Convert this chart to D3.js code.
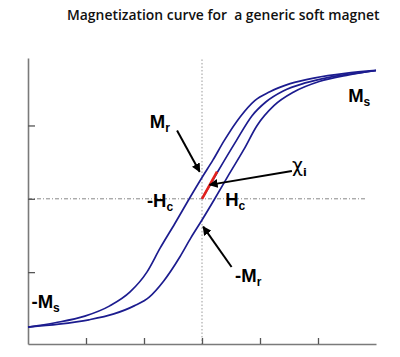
<!DOCTYPE html>
<html>
<head>
<meta charset="utf-8">
<script src="https://cdn.jsdelivr.net/npm/d3@7"></script>
<style>
  html, body { margin: 0; padding: 0; background: #fff; }
  svg { display: block; }
</style>
</head>
<body>
<svg id="chart" width="400" height="357"></svg>
<script>
// ---- Data (field H, magnetization M in arbitrary units) ----
const xTicks = [-2, -1, 0, 1, 2];
const yTicks = [-1, 0, 1];

// Descending-field (upper) branch of the loop
const upperH = [-3.0, -2.53, -2.02, -1.59, -1.24, -0.95, -0.72, -0.47, -0.22, 0.0, 0.19, 0.38, 0.66, 0.91, 1.17, 1.52, 1.95, 2.47, 3.0];
const upperM = [-1.75, -1.69, -1.60, -1.46, -1.27, -1.00, -0.67, -0.34, 0.0, 0.29, 0.53, 0.79, 1.12, 1.34, 1.46, 1.57, 1.65, 1.71, 1.75];

// Ascending-field (lower) branch of the loop
const lowerH = [-3.0, -2.47, -1.95, -1.52, -1.17, -0.91, -0.66, -0.38, -0.19, 0.0, 0.22, 0.47, 0.72, 0.95, 1.24, 1.59, 2.02, 2.53, 3.0];
const lowerM = [-1.75, -1.71, -1.65, -1.57, -1.46, -1.34, -1.12, -0.79, -0.53, -0.29, 0.0, 0.34, 0.67, 1.00, 1.27, 1.46, 1.60, 1.69, 1.75];

// Initial magnetization curve (from the demagnetized state)
const initH = [0.0, 0.26, 0.59, 0.86, 1.10, 1.40, 1.78, 2.21, 2.64, 3.0];
const initM = [0.0, 0.355, 0.79, 1.13, 1.32, 1.47, 1.58, 1.66, 1.71, 1.75];

// Initial susceptibility segment
const chiH = [0.0, 0.26];
const chiM = [0.0, 0.37];

// Annotations: label, subscript, anchor point (data)
const labels = [
  { main: "M", sub: "s",  h: 2.52,  m: 1.32 },
  { main: "-M", sub: "s", h: -2.94, m: -1.49 },
  { main: "M", sub: "r",  h: -0.90, m: 0.96 },
  { main: "-M", sub: "r", h: 0.57,  m: -1.13 },
  { main: "-H", sub: "c", h: -0.95, m: -0.11 },
  { main: "H", sub: "c",  h: 0.40,  m: -0.10 }
];
const arrows = [
  { h1: -0.43, m1: 0.93,  h2: -0.04, m2: 0.37 },   // Mr
  { h1: 0.51,  m1: -0.93, h2: 0.02,  m2: -0.38 },  // -Mr
  { h1: 1.55,  m1: 0.38,  h2: 0.13,  m2: 0.19 }    // chi_i
];

// ---- Scales ----
const x = d3.scaleLinear().domain([-3, 3]).range([28, 376]);
const y = d3.scaleLinear().domain([-1.98, 1.92]).range([344, 58]);

const svg = d3.select("#chart");

// Title
svg.append("text")
  .attr("x", 67).attr("y", 20)
  .attr("font-family", "'Open Sans', sans-serif")
  .attr("font-weight", 600)
  .attr("font-size", 13.9)
  .attr("fill", "#111")
  .attr("xml:space", "preserve")
  .style("white-space", "pre")
  .text("Magnetization curve for  a generic soft magnet");

// Reference lines through the origin
svg.append("line")
  .attr("x1", x(-3)).attr("x2", x(2.83))
  .attr("y1", y(0)).attr("y2", y(0))
  .attr("stroke", "#888").attr("stroke-width", 1)
  .attr("stroke-dasharray", "4,2,1,2");
svg.append("line")
  .attr("x1", x(0)).attr("x2", x(0))
  .attr("y1", y(1.9)).attr("y2", y(-1.98))
  .attr("stroke", "#999").attr("stroke-width", 1)
  .attr("stroke-dasharray", "1.5,2");

// Axes
const axisColor = "#7a7a7a";
const gx = svg.append("g")
  .attr("transform", `translate(0,${y(-1.98)})`)
  .call(d3.axisBottom(x).tickValues(xTicks).tickSize(-6).tickSizeOuter(0).tickFormat(""));
const gy = svg.append("g")
  .attr("transform", `translate(${x(-3)},0)`)
  .call(d3.axisLeft(y).tickValues(yTicks).tickSize(-7).tickSizeOuter(0).tickFormat(""));
[gx, gy].forEach(g => {
  g.select(".domain").attr("stroke", axisColor).attr("stroke-width", 1.6);
  g.selectAll(".tick line").attr("stroke", "#555").attr("stroke-width", 1.3);
});

// Curves
const line = d3.line()
  .x(d => x(d[0])).y(d => y(d[1]))
  .curve(d3.curveMonotoneX);
const zip = (a, b) => a.map((v, i) => [v, b[i]]);
const blue = "#1c1c8f";

[[upperH, upperM], [lowerH, lowerM], [initH, initM]].forEach(([hs, ms]) => {
  svg.append("path")
    .attr("d", line(zip(hs, ms)))
    .attr("fill", "none")
    .attr("stroke", blue)
    .attr("stroke-width", 1.7);
});

svg.append("path")
  .attr("d", d3.line().x(d => x(d[0])).y(d => y(d[1]))(zip(chiH, chiM)))
  .attr("fill", "none")
  .attr("stroke", "#e3201b")
  .attr("stroke-width", 2.6);

// Arrows
const defs = svg.append("defs");
defs.append("marker")
  .attr("id", "arrowhead")
  .attr("viewBox", "0 0 10 10")
  .attr("refX", 9).attr("refY", 5)
  .attr("markerWidth", 4.5).attr("markerHeight", 4.5)
  .attr("orient", "auto")
  .append("path").attr("d", "M0,0 L10,5 L0,10 Z").attr("fill", "#000");

arrows.forEach(a => {
  svg.append("line")
    .attr("x1", x(a.h1)).attr("y1", y(a.m1))
    .attr("x2", x(a.h2)).attr("y2", y(a.m2))
    .attr("stroke", "#000").attr("stroke-width", 2)
    .attr("marker-end", "url(#arrowhead)");
});

// Labels
labels.forEach(l => {
  const t = svg.append("text")
    .attr("x", x(l.h)).attr("y", y(l.m))
    .attr("font-family", "'Liberation Sans', Arial, sans-serif")
    .attr("font-weight", "bold")
    .attr("font-size", 18.5)
    .attr("fill", "#000");
  t.append("tspan").text(l.main);
  t.append("tspan").attr("font-size", 12).attr("dy", 4).text(l.sub);
});

// chi_i label
const chi = svg.append("text")
  .attr("x", x(1.55)).attr("y", y(0.36))
  .attr("font-family", "'DejaVu Sans', sans-serif")
  .attr("font-size", 19)
  .attr("fill", "#000");
chi.append("tspan").text("χ");
chi.append("tspan").attr("font-size", 11).attr("font-weight", "bold").attr("dy", 4).text("i");
</script>
</body>
</html>
